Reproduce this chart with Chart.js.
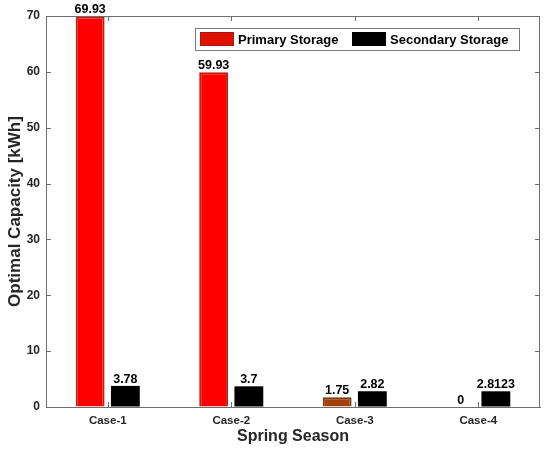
<!DOCTYPE html>
<html>
<head>
<meta charset="utf-8">
<script src="https://cdn.jsdelivr.net/npm/chart.js@4.4.1/dist/chart.umd.min.js"></script>
<style>
  html, body { margin: 0; padding: 0; background: #fff; }
  #wrap { width: 550px; height: 449px; position: relative; }
</style>
</head>
<body>
<div id="wrap"><canvas id="c" width="550" height="449"></canvas></div>
<script>
const categories = ['Case-1', 'Case-2', 'Case-3', 'Case-4'];
const primaryStorage = [69.93, 59.93, 1.75, 0];
const secondaryStorage = [3.78, 3.7, 2.82, 2.8123];
const primaryLabels = ['69.93', '59.93', '1.75', '0'];
const secondaryLabels = ['3.78', '3.7', '2.82', '2.8123'];
const yTicks = [0, 10, 20, 30, 40, 50, 60, 70];
const seriesNames = ['Primary Storage', 'Secondary Storage'];

const FONT = "'Liberation Sans', Arial, sans-serif";
const AXIS = '#6e6e6e';
const TXT = '#262626';

const overlay = {
  id: 'overlay',
  afterDraw(chart) {
    const ctx = chart.ctx;
    const a = chart.chartArea;
    const xs = chart.scales.x, ys = chart.scales.y;
    ctx.save();
    ctx.strokeStyle = AXIS;
    ctx.lineWidth = 1;
    ctx.beginPath();
    ctx.moveTo(a.left, a.top + 0.5); ctx.lineTo(a.right, a.top + 0.5);
    ctx.moveTo(a.right - 0.5, a.top); ctx.lineTo(a.right - 0.5, a.bottom);
    ctx.stroke();
    ctx.beginPath();
    yTicks.forEach(v => {
      const y = Math.round(ys.getPixelForValue(v)) + 0.5;
      ctx.moveTo(a.left, y); ctx.lineTo(a.left + 5, y);
      ctx.moveTo(a.right, y); ctx.lineTo(a.right - 5, y);
    });
    categories.forEach((c, i) => {
      const x = Math.round(xs.getPixelForValue(i)) + 0.5;
      ctx.moveTo(x, a.bottom); ctx.lineTo(x, a.bottom - 5);
      ctx.moveTo(x, a.top); ctx.lineTo(x, a.top + 5);
    });
    ctx.stroke();

    ctx.fillStyle = '#000';
    ctx.font = 'bold 12.5px ' + FONT;
    ctx.textAlign = 'center';
    ctx.textBaseline = 'alphabetic';
    const labelSets = [primaryLabels, secondaryLabels];
    chart.data.datasets.forEach((ds, di) => {
      const meta = chart.getDatasetMeta(di);
      meta.data.forEach((bar, i) => {
        ctx.fillText(labelSets[di][i], bar.x, bar.y - 3);
      });
    });

    const lx = 195, ly = 28, lw = 324, lh = 22;
    ctx.fillStyle = '#fff';
    ctx.fillRect(lx, ly, lw, lh);
    ctx.strokeStyle = '#7a7a7a';
    ctx.strokeRect(lx + 0.5, ly + 0.5, lw, lh);
    const items = [
      { x: 200, color: '#e01005', border: '#a01a10', text: seriesNames[0] },
      { x: 352, color: '#000', border: '#000', text: seriesNames[1] }
    ];
    ctx.font = 'bold 13px ' + FONT;
    ctx.textAlign = 'left';
    ctx.textBaseline = 'middle';
    items.forEach(it => {
      ctx.fillStyle = it.color;
      ctx.fillRect(it.x, 32, 34, 14);
      ctx.strokeStyle = it.border;
      ctx.strokeRect(it.x + 0.5, 32.5, 33, 13);
      ctx.fillStyle = '#000';
      ctx.fillText(it.text, it.x + 38, 40);
    });
    ctx.restore();
  }
};

new Chart(document.getElementById('c'), {
  type: 'bar',
  data: {
    labels: categories,
    datasets: [
      {
        label: seriesNames[0],
        data: primaryStorage,
        backgroundColor: ['#ff0000', '#ff0000', '#a3400c', '#ff0000'],
        borderColor: ['#c0200c', '#c0200c', '#7a3a10', '#c0200c'],
        borderWidth: 2,
        categoryPercentage: 0.57,
        barPercentage: 0.82
      },
      {
        label: seriesNames[1],
        data: secondaryStorage,
        backgroundColor: '#000000',
        borderColor: '#000000',
        borderWidth: 0,
        categoryPercentage: 0.57,
        barPercentage: 0.82
      }
    ]
  },
  options: {
    responsive: false,
    animation: false,
    devicePixelRatio: 1,
    layout: { padding: { left: 0, right: 10, top: 16, bottom: 0 } },
    plugins: { legend: { display: false }, tooltip: { enabled: false } },
    scales: {
      x: {
        offset: true,
        grid: { display: true, drawOnChartArea: false, drawTicks: false },
        border: { display: true, color: AXIS, width: 1 },
        ticks: { color: TXT, font: { family: FONT, size: 11.5, weight: 'bold' }, padding: 7, maxRotation: 0 },
        title: { display: true, text: 'Spring Season', color: TXT, font: { family: FONT, size: 16, weight: 'bold' }, padding: { top: 0, bottom: 3 } },
        afterFit(s) { s.height = 42; }
      },
      y: {
        min: 0, max: 70,
        afterBuildTicks(s) { s.ticks = yTicks.map(v => ({ value: v })); },
        grid: { display: true, drawOnChartArea: false, drawTicks: false },
        border: { display: true, color: AXIS, width: 1 },
        ticks: { color: TXT, font: { family: FONT, size: 12, weight: 'bold' }, padding: 6 },
        title: { display: true, text: 'Optimal Capacity [kWh]', color: TXT, font: { family: FONT, size: 17, weight: 'bold' }, padding: { top: 5, bottom: 0 } },
        afterFit(s) { s.width = 46; }
      }
    }
  },
  plugins: [overlay]
});
</script>
</body>
</html>
